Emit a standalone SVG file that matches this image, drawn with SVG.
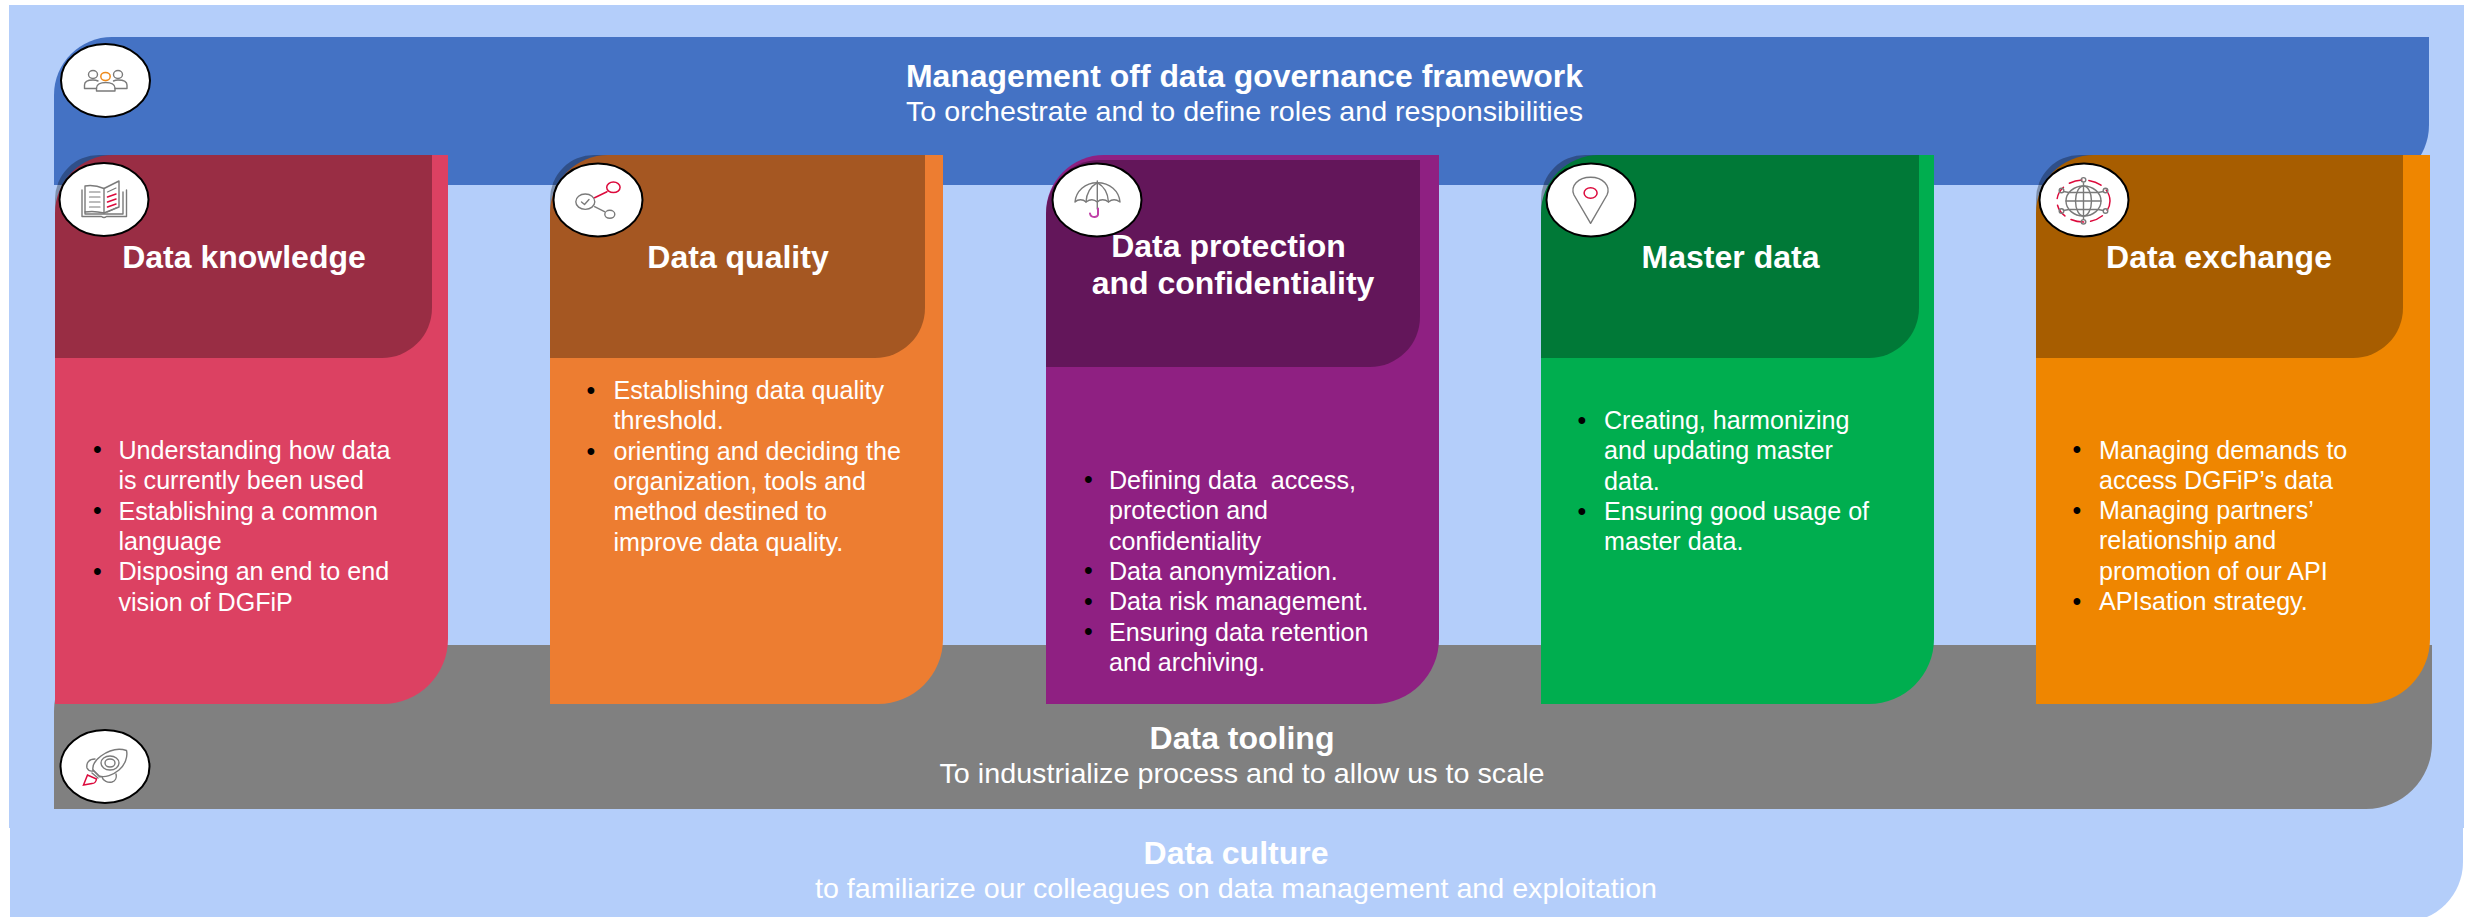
<svg xmlns="http://www.w3.org/2000/svg" width="2473" height="917" viewBox="0 0 2473 917">
<style>
text{font-family:"Liberation Sans",Arial,sans-serif;fill:#fff}
.t{font-weight:700;font-size:32px;text-anchor:middle}
.s{font-size:28px;text-anchor:middle}
.b{font-size:25.1px}
.d{font-size:25px;fill:#000;text-anchor:middle}
.hd{fill:#000;fill-opacity:.3}
.c{fill:#fff;stroke:#000;stroke-width:2}
.i{fill:none;stroke:#7a7a7a;stroke-width:1.4;stroke-linejoin:round;stroke-linecap:round}
.r{fill:none;stroke:#dc0a3c;stroke-width:1.5;stroke-linecap:round}
.o{fill:none;stroke:#ee8a1a;stroke-width:1.5}
.p{fill:none;stroke:#c040a8;stroke-width:2;stroke-linecap:round}
</style>

<g id="data-culture">
<rect x="9" y="5" width="2455" height="823" fill="#b4cefa"/>
<path d="M10 828H2463V862A60 60 0 0 1 2403 922H10Z" fill="#b4cefa"/>
<text class="t" x="1236" y="863.500">Data culture</text>
<text class="s" x="1236" y="898" textLength="842" lengthAdjust="spacingAndGlyphs">to familiarize our colleagues on data management and exploitation</text>
</g>

<g id="governance-framework">
<path d="M112 37H2429V125A60 60 0 0 1 2369 185H54V95A58 58 0 0 1 112 37Z" fill="#4472c4"/>
<text class="t" x="1244.500" y="86.500" textLength="677" lengthAdjust="spacingAndGlyphs">Management off data governance framework</text>
<text class="s" x="1244.500" y="121" textLength="677" lengthAdjust="spacingAndGlyphs">To orchestrate and to define roles and responsibilities</text>
<ellipse class="c" cx="105.500" cy="80.500" rx="44.500" ry="36.500"/>
<g class="i">
<ellipse cx="93" cy="74.500" rx="4.500" ry="4"/>
<ellipse cx="118" cy="74.500" rx="4.500" ry="4"/>
<path d="M84.500 88.500V85C84.500 81.500 88 80 93 80C95.500 80 97 80.500 98 81M127 88.500V85C127 81.500 123.500 80 118 80C116 80 114.500 80.500 113.500 81M84.500 88.500H96.500M115 88.500H127"/>
<path d="M96.500 91V88C96.500 84.500 100.500 82.500 105.700 82.500C111 82.500 115 84.500 115 88V91Z"/>
</g>
<ellipse class="o" cx="105.500" cy="76.500" rx="4.700" ry="4"/>
</g>

<g id="data-tooling">
<path d="M120 645H2432V743A66 66 0 0 1 2366 809H54V711A66 66 0 0 1 120 645Z" fill="#808080"/>
<text class="t" x="1242" y="748.500">Data tooling</text>
<text class="s" x="1242" y="783" textLength="605" lengthAdjust="spacingAndGlyphs">To industrialize process and to allow us to scale</text>
<ellipse class="c" cx="105" cy="766.500" rx="44.500" ry="36.500"/>
<g class="i" stroke-width="1.100">
<path d="M126.500 750.500C119 748 110 749.500 101 756C95 760.500 92 765 93 770L99 776C105 778 113 775 119 770C125 765 128 757 126.500 750.500Z"/>
<ellipse cx="110" cy="763" rx="9" ry="7"/>
<ellipse cx="110" cy="763" rx="5" ry="4"/>
<path d="M95 759C89 759 86 763 87 768C88 770 90 771.500 93 771M102 777C103 781 108 783 112 782C115 781 117 778 116 774M93 770L100 777M92 773L98 778"/>
</g>
<path class="r" d="M83.500 785L87.500 775L96.500 779C96 782 94.500 783.500 92 783.500Z"/>
</g>

<g id="data-knowledge">
<path d="M113 155H448V639A65 65 0 0 1 383 704H55V213A58 58 0 0 1 113 155Z" fill="#dc4162"/>
<path class="hd" d="M99 155H432V308A50 50 0 0 1 382 358H55V199A44 44 0 0 1 99 155Z"/>
<ellipse class="c" cx="104" cy="199.500" rx="44.500" ry="36.500"/>
<g class="i">
<path d="M85 186C91 185 98 186 104 188.500V213C98 211.500 91 211 85 212Z"/>
<path d="M104 188.500L119 181V207L104 213"/>
<path d="M82 190V216.500H101.500Q104 218.500 106.500 216.500H126.500V190M85 212V214H123V192"/>
<path d="M89.500 192H100M89.500 197H100M89.500 202H100M89.500 207H100M107.500 192L116 188M107.500 212L116 208" stroke-width="1.200"/>
</g>
<path class="r" d="M107.500 197L116 194M107.500 202L116 199M107.500 207L116 204"/>
<text class="t" x="244" y="268">Data knowledge</text>
<text class="d" x="97.500" y="458.300">•</text><text class="d" x="97.500" y="519">•</text><text class="d" x="97.500" y="579.600">•</text>
<text class="b" x="118.500" y="458.800">Understanding how data</text>
<text class="b" x="118.500" y="489.100">is currently been used</text>
<text class="b" x="118.500" y="519.500">Establishing a common</text>
<text class="b" x="118.500" y="549.800">language</text>
<text class="b" x="118.500" y="580.100">Disposing an end to end</text>
<text class="b" x="118.500" y="610.500">vision of DGFiP</text>
</g>

<g id="data-quality">
<path d="M608 155H943V639A65 65 0 0 1 878 704H550V213A58 58 0 0 1 608 155Z" fill="#ed7d31"/>
<path class="hd" d="M594 155H925V308A50 50 0 0 1 875 358H550V199A44 44 0 0 1 594 155Z"/>
<ellipse class="c" cx="598" cy="200" rx="44.500" ry="36.500"/>
<g class="i">
<ellipse cx="585.300" cy="201.700" rx="9.500" ry="7.700"/>
<path d="M581.500 202L584.500 204.500L589 199.500M594.600 206.700L604.500 211.700"/>
<ellipse cx="609.800" cy="214.300" rx="5" ry="4"/>
</g>
<ellipse class="r" cx="613.400" cy="187.300" rx="6.700" ry="5.300"/>
<path class="r" d="M594.600 197.700L607 191.700"/>
<text class="t" x="738" y="268">Data quality</text>
<text class="d" x="591" y="399">•</text><text class="d" x="591" y="459.600">•</text>
<text class="b" x="613.500" y="399">Establishing data quality</text>
<text class="b" x="613.500" y="429.300">threshold.</text>
<text class="b" x="613.500" y="459.600">orienting and deciding the</text>
<text class="b" x="613.500" y="489.900">organization, tools and</text>
<text class="b" x="613.500" y="520.200">method destined to</text>
<text class="b" x="613.500" y="550.500">improve data quality.</text>
</g>

<g id="data-protection">
<path d="M1104 155H1439V639A65 65 0 0 1 1374 704H1046V213A58 58 0 0 1 1104 155Z" fill="#8f2082"/>
<path class="hd" d="M1100 160H1420V317A50 50 0 0 1 1370 367H1046V214A54 54 0 0 1 1100 160Z"/>
<ellipse class="c" cx="1097" cy="200" rx="44.500" ry="36.500"/>
<g class="i">
<path d="M1075 202C1076 191 1085 182.700 1097.300 182.700C1110 182.700 1119 191 1120 202C1116 199 1112 199 1108.500 202C1105 199 1100 199 1097.300 202C1094 199 1090 199 1086 202C1083 199 1078 199 1075 202Z"/>
<path d="M1097.300 182.700C1090 187 1086.500 194 1086 202M1097.300 182.700C1105 187 1108 194 1108.500 202M1097.300 181V209"/>
</g>
<path class="p" d="M1098 208.500V214.500C1098 218 1090.500 218 1090 213.500"/>
<text class="t" x="1228.500" y="256.500">Data protection</text>
<text class="t" x="1233" y="294">and confidentiality</text>
<text class="d" x="1088.300" y="488.300">•</text><text class="d" x="1088.300" y="579.300">•</text><text class="d" x="1088.300" y="609.700">•</text><text class="d" x="1088.300" y="640">•</text>
<text class="b" x="1109" y="488.800" xml:space="preserve">Defining data  access,</text>
<text class="b" x="1109" y="519.200">protection and</text>
<text class="b" x="1109" y="549.500">confidentiality</text>
<text class="b" x="1109" y="579.800">Data anonymization.</text>
<text class="b" x="1109" y="610.200">Data risk management.</text>
<text class="b" x="1109" y="640.500">Ensuring data retention</text>
<text class="b" x="1109" y="670.800">and archiving.</text>
</g>

<g id="master-data">
<path d="M1599 155H1934V639A65 65 0 0 1 1869 704H1541V213A58 58 0 0 1 1599 155Z" fill="#00ae4f"/>
<path class="hd" d="M1585 155H1919V308A50 50 0 0 1 1869 358H1541V199A44 44 0 0 1 1585 155Z"/>
<ellipse class="c" cx="1591" cy="200" rx="44.500" ry="36.500"/>
<path class="i" d="M1590.600 223.300L1574 195C1570 186 1578 177.300 1590.600 177.300C1603 177.300 1611 186 1607 195Z"/>
<ellipse class="r" cx="1590.600" cy="193" rx="6.500" ry="5.300" stroke-width="2"/>
<text class="t" x="1730.500" y="268">Master data</text>
<text class="d" x="1582" y="429">•</text><text class="d" x="1582" y="520">•</text>
<text class="b" x="1604" y="429">Creating, harmonizing</text>
<text class="b" x="1604" y="459.300">and updating master</text>
<text class="b" x="1604" y="489.600">data.</text>
<text class="b" x="1604" y="519.900">Ensuring good usage of</text>
<text class="b" x="1604" y="550.200">master data.</text>
</g>

<g id="data-exchange">
<path d="M2094 155H2430V639A65 65 0 0 1 2365 704H2036V213A58 58 0 0 1 2094 155Z" fill="#ef8600"/>
<path class="hd" d="M2080 155H2403V308A50 50 0 0 1 2353 358H2036V199A44 44 0 0 1 2080 155Z"/>
<ellipse class="c" cx="2084" cy="200" rx="44.500" ry="36.500"/>
<ellipse class="r" cx="2083.500" cy="201" rx="26.500" ry="21" stroke-width="1.600" stroke-dasharray="13 7" stroke-dashoffset="3"/>
<g class="i">
<ellipse cx="2083.500" cy="201" rx="17.500" ry="15"/>
<ellipse cx="2083.500" cy="201" rx="8" ry="15"/>
<path d="M2083.500 183V219M2066 201H2101M2069 192.500H2098M2069 209.500H2098M2063.500 191.500L2069 192.500M2103.500 191.500L2098 192.500M2063.500 210.500L2069 209.500M2103.500 210.500L2098 209.500"/>
<ellipse cx="2083.500" cy="179.800" rx="2.300" ry="2.200"/>
<ellipse cx="2083.500" cy="221.800" rx="2.300" ry="2.200"/>
<ellipse cx="2061.500" cy="190.500" rx="2.300" ry="2.200"/>
<ellipse cx="2105.500" cy="190.500" rx="2.300" ry="2.200"/>
<ellipse cx="2061.500" cy="211" rx="2.300" ry="2.200"/>
<ellipse cx="2105.500" cy="211" rx="2.300" ry="2.200"/>
</g>
<text class="t" x="2219" y="268">Data exchange</text>
<text class="d" x="2077" y="458">•</text><text class="d" x="2077" y="518.600">•</text><text class="d" x="2077" y="609.500">•</text>
<text class="b" x="2099" y="458.500">Managing demands to</text>
<text class="b" x="2099" y="488.800">access DGFiP’s data</text>
<text class="b" x="2099" y="519.100">Managing partners’</text>
<text class="b" x="2099" y="549.400">relationship and</text>
<text class="b" x="2099" y="579.700">promotion of our API</text>
<text class="b" x="2099" y="610">APIsation strategy.</text>
</g>
</svg>
